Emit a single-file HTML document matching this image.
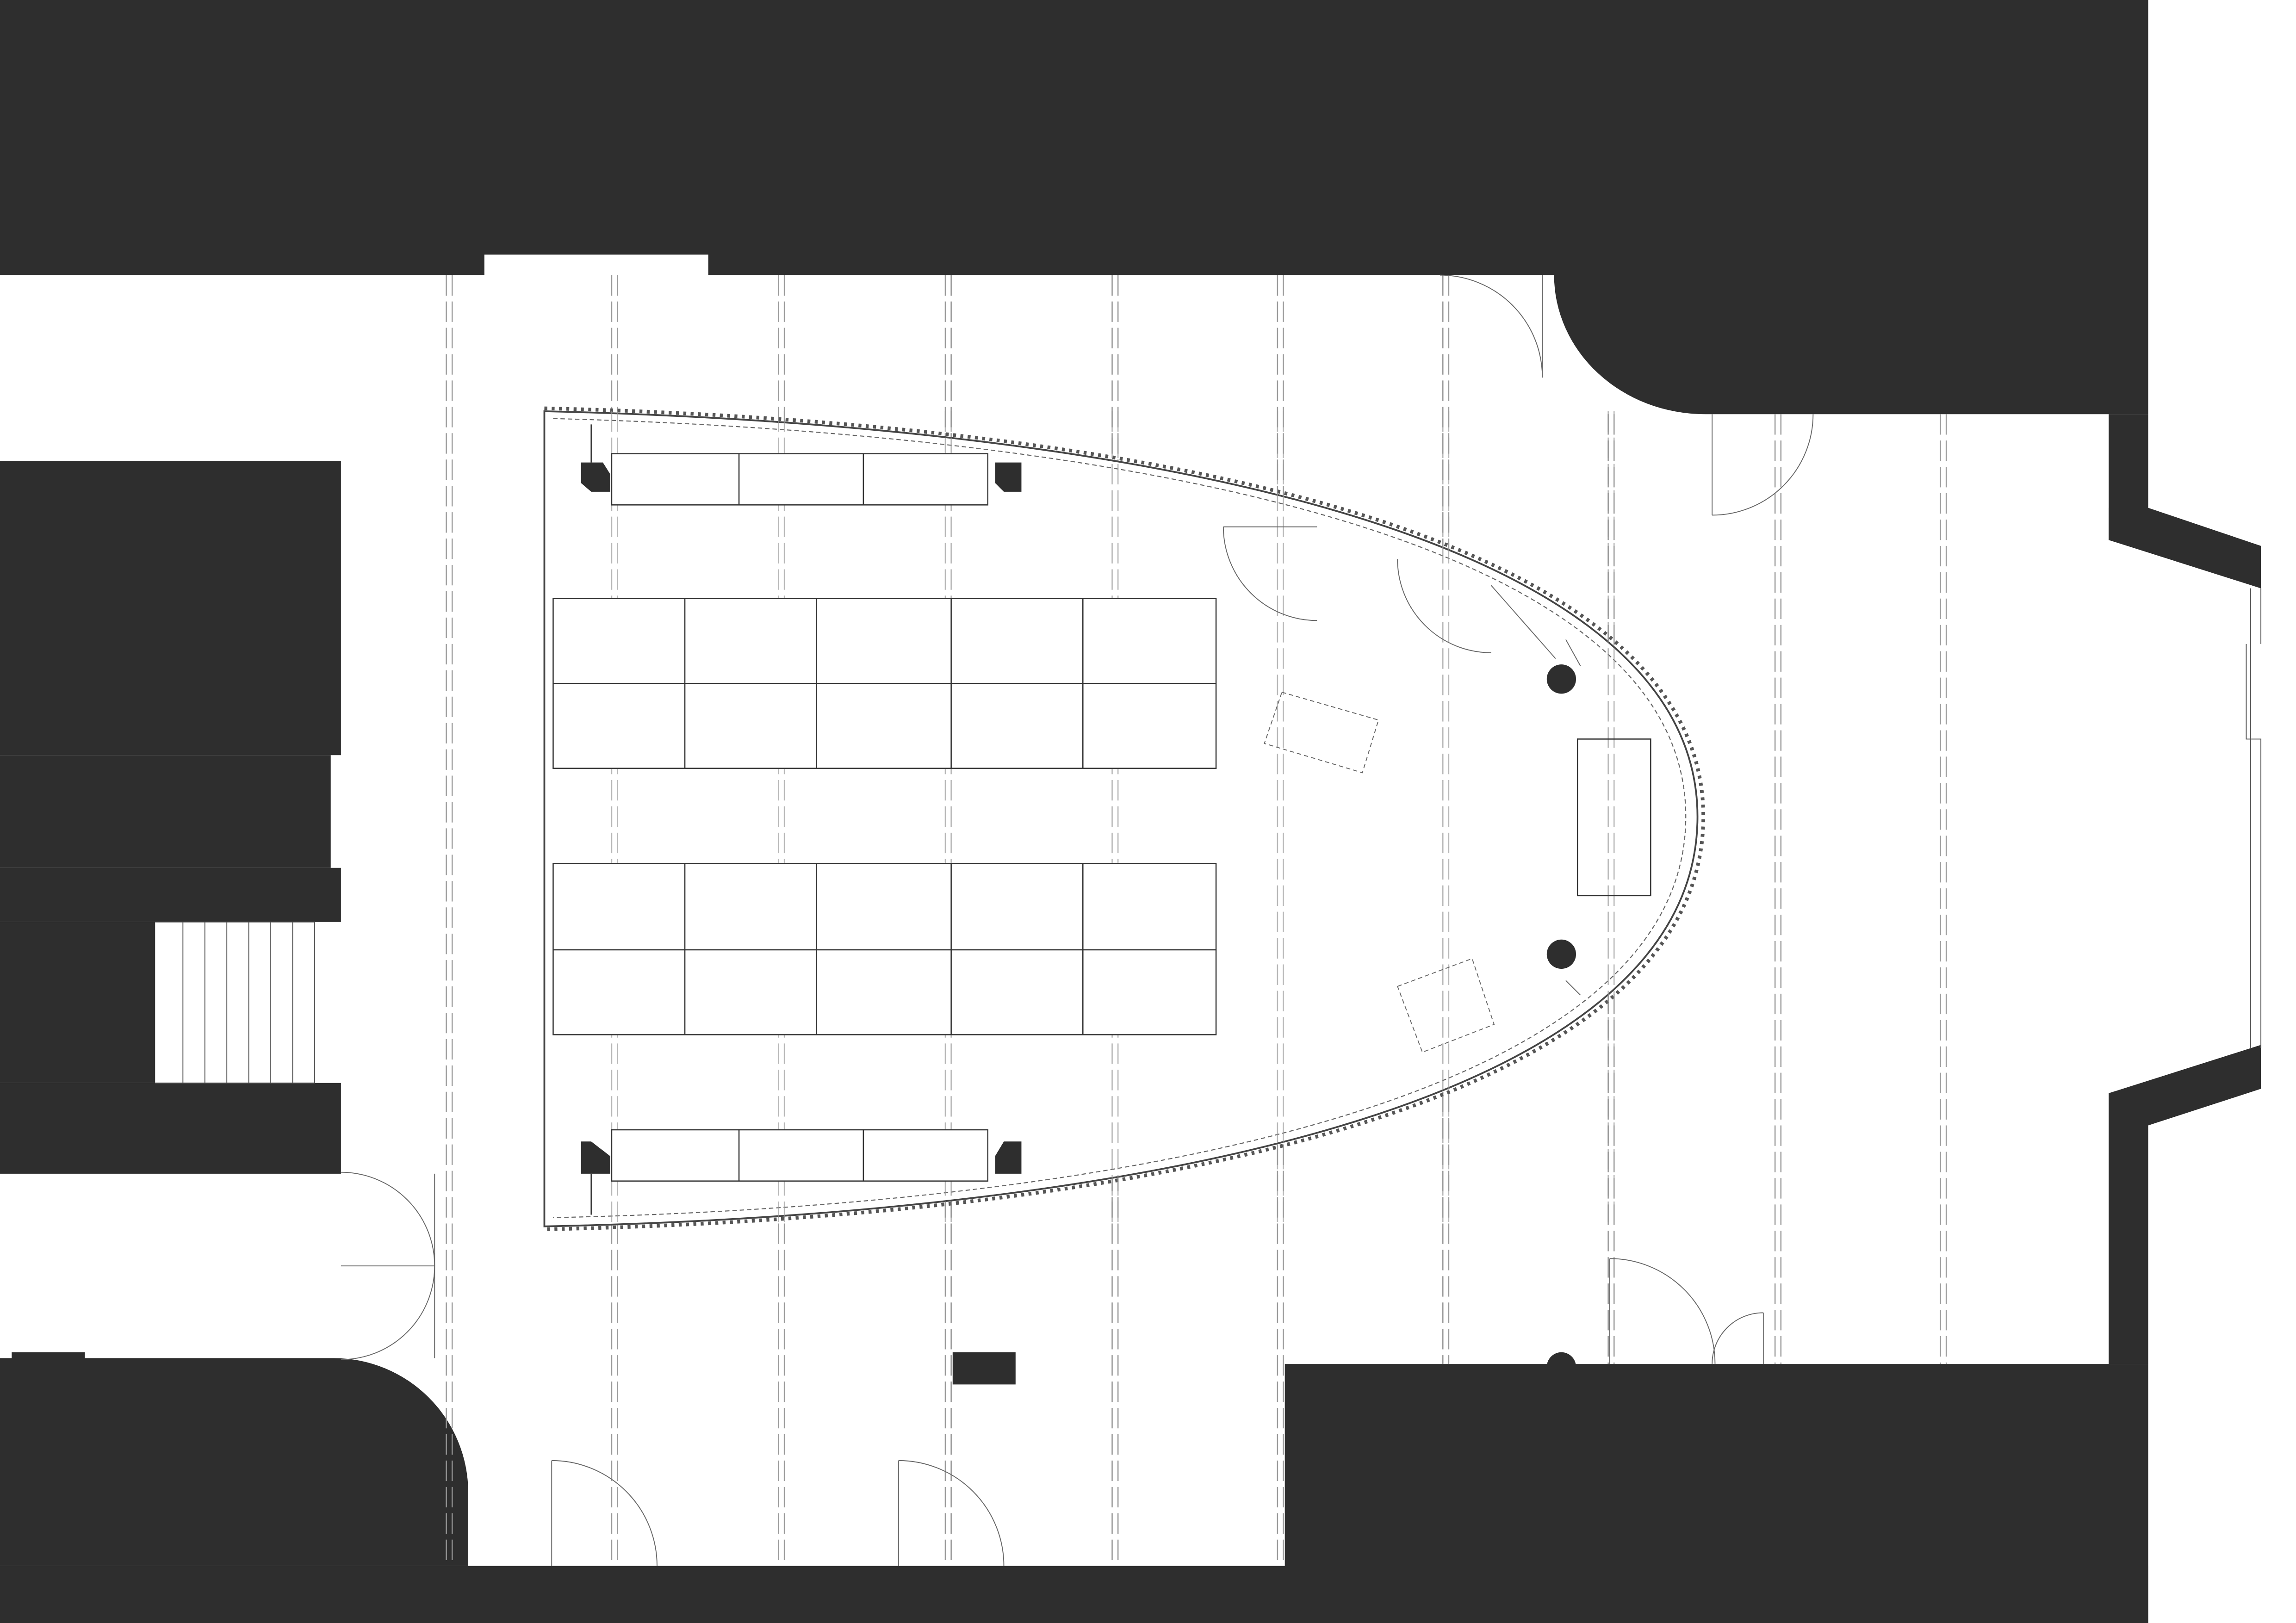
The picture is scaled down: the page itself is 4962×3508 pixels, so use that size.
<!DOCTYPE html>
<html><head><meta charset="utf-8"><style>html,body{margin:0;padding:0;background:#fff}svg{display:block}</style></head>
<body>
<svg width="4962" height="3508" viewBox="0 0 1569 1109" preserveAspectRatio="none" xmlns="http://www.w3.org/2000/svg">
<rect width="1569" height="1109" fill="#fff"/>
<g fill="#2e2e2e">
<path d="M0,0 H1468 V283 H1165 A103,95 0 0 1 1062,188 H484 V174 H331 V188 H0 Z"/>
<rect x="1441" y="283" width="27" height="86"/>
<path d="M1468,347 L1545,373 L1545,402 L1441,369 L1441,347 Z"/>
<path d="M1441,747 L1545,714 L1545,744 L1468,769 L1468,932 L1441,932 Z"/>
<rect x="878" y="932" width="590" height="177"/>
<rect x="0" y="1070" width="1468" height="39"/>
<path d="M0,928 H228 A92,92 0 0 1 320,1020 V1070 H0 Z"/>
<rect x="8" y="924" width="50" height="6"/>
<rect x="0" y="315" width="233" height="201"/>
<rect x="0" y="516" width="226" height="77"/>
<rect x="0" y="593" width="233" height="37"/>
<rect x="0" y="630" width="106" height="110"/>
<rect x="0" y="740" width="233" height="62"/>
<rect x="651" y="924" width="43" height="22"/>
<circle cx="1067" cy="934" r="10"/>
</g>
<g stroke="#555" stroke-width="0.6" fill="none">
<line x1="106" y1="630" x2="215" y2="630"/><line x1="106" y1="740" x2="215" y2="740"/>
<line x1="125" y1="630" x2="125" y2="740"/><line x1="140" y1="630" x2="140" y2="740"/>
<line x1="155" y1="630" x2="155" y2="740"/><line x1="170" y1="630" x2="170" y2="740"/>
<line x1="185" y1="630" x2="185" y2="740"/><line x1="200" y1="630" x2="200" y2="740"/>
<line x1="215" y1="630" x2="215" y2="740"/>
<line x1="1538" y1="402" x2="1538" y2="716"/>
<path d="M1545,402 V440 M1535,440 V505 H1545 V716"/>
</g>
<g stroke="#999" stroke-width="0.8" stroke-dasharray="14,4" fill="none">
<path d="M305,188V1070M309,188V1070"/>
<path d="M418,188V1070M422,188V1070"/>
<path d="M532,188V1070M536,188V1070"/>
<path d="M646,188V1070M650,188V1070"/>
<path d="M760,188V1070M764,188V1070"/>
<path d="M873,188V1070M877,188V1070"/>
<path d="M986,188V932M990,188V932"/>
<path d="M1099,283V932M1103,283V932"/>
<path d="M1213,283V932M1217,283V932"/>
<path d="M1326,283V932M1330,283V932"/>
</g>
<path d="M372,281 C760,290 1160,360 1160,558 C1160,760 760,830 372,838 Z" fill="#fff" stroke="#444" stroke-width="1.2"/>
<path d="M372,279 C762,288 1164,358 1164,558 C1164,762 762,832 372,840" fill="none" stroke="#555" stroke-width="2.5" stroke-dasharray="2,3"/>
<path d="M378,286 C760,296 1152,364 1152,558 C1152,754 760,824 378,832" fill="none" stroke="#666" stroke-width="0.7" stroke-dasharray="3,2"/>
<g stroke="#999" stroke-width="0.8" stroke-dasharray="14,4" fill="none" opacity="0.7">
<path d="M418,281V838M422,281V838M532,281V838M536,281V838M646,281V838M650,281V838M760,281V838M764,281V838M873,281V838M877,281V838M986,281V838M990,281V838M1099,281V838M1103,281V838"/>
</g>
<g fill="none" stroke="#333" stroke-width="0.8">
<rect x="378" y="409" width="453" height="116" fill="#fff"/>
<line x1="378" y1="467" x2="831" y2="467"/>
<path d="M468,409V525M558,409V525M650,409V525M740,409V525"/>
<rect x="378" y="590" width="453" height="117" fill="#fff"/>
<line x1="378" y1="649" x2="831" y2="649"/>
<path d="M468,590V707M558,590V707M650,590V707M740,590V707"/>
<rect x="418" y="310" width="257" height="35" fill="#fff"/>
<path d="M505,310V345M590,310V345"/>
<rect x="418" y="772" width="257" height="35" fill="#fff"/>
<path d="M505,772V807M590,772V807"/>
<rect x="1078" y="505" width="50" height="107"/>
<path d="M404,290V316M404,802V830"/>
</g>
<g fill="#2e2e2e">
<circle cx="1067" cy="464" r="10"/>
<circle cx="1067" cy="652" r="10"/>
<path d="M397,316 H412 L417,324 V336 H404 L397,330 Z"/>
<path d="M680,316 H698 V336 H686 L680,330 Z"/>
<path d="M397,780 H404 L417,790 V802 H397 Z"/>
<path d="M686,780 H698 V802 H680 V790 Z"/>
</g>
<g fill="none" stroke="#666" stroke-width="0.6" stroke-dasharray="3,2">
<polygon points="876,473 942,492 931,528 864,508"/>
<polygon points="955,674 1006,655 1021,700 972,719"/>
</g>
<g fill="none" stroke="#666" stroke-width="0.6">
<path d="M1054,188 V258 M1054,258 A70,70 0 0 0 984,188"/>
<path d="M1170,283 V352 M1170,352 A69,69 0 0 0 1239,283"/>
<path d="M233,865 L297,865 A64,64 0 0 0 233,801 M233,865 L297,865 A64,64 0 0 1 233,929"/>
<path d="M297,802 V928"/>
<path d="M377,998 V1070 M377,998 A72,72 0 0 1 449,1070"/>
<path d="M614,998 V1070 M614,998 A72,72 0 0 1 686,1070"/>
<path d="M1100,860 V932 M1100,860 A72,72 0 0 1 1172,932"/>
<path d="M1205,897 V932 M1205,897 A35,35 0 0 0 1170,932"/>
<path d="M836,360 H900 M836,360 A64,64 0 0 0 900,424"/>
<path d="M955,382 A64,64 0 0 0 1019,446 M1019,400 L1063,450 M1070,437 L1080,455 M1070,670 L1080,680"/>
</g>
</svg>
</body></html>
